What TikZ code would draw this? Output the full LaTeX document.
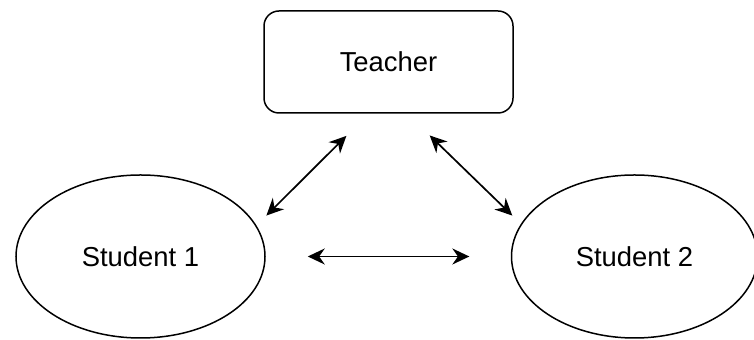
\documentclass[tikz,border=0pt]{standalone}
\usepackage{fontspec}
\setmainfont{Liberation Sans}
\usepackage{tikz}
\usetikzlibrary{positioning,arrows.meta,shapes.geometric}
\tikzset{
  linkarrow/.style={{Stealth[length=8.5pt,width=8pt,inset=2.8pt]}-{Stealth[length=8.5pt,width=8pt,inset=2.8pt]}, line width=0.85pt},
  teacherbox/.style={draw, rounded corners=7.5pt, line width=0.75pt, minimum width=124.5pt, minimum height=51pt, align=center},
  studentnode/.style={draw, ellipse, line width=0.75pt, inner sep=1pt, minimum width=124.5pt, minimum height=81.5pt, align=center}
}

\begin{document}
\begin{tikzpicture}[x=0.5pt, y=-0.5pt, every node/.style={font=\fontsize{13.7pt}{16pt}\selectfont}]
      \useasboundingbox (0,0) rectangle (754,340);
      \node[teacherbox] (teacher) at (388.5,62) {Teacher};
      \node[studentnode] (s1) at (140.5,256.5) {Student 1};
      \node[studentnode, minimum width=123pt] (s2) at (634.5,256.5) {Student 2};
      \draw[linkarrow, shorten <=15.7pt, shorten >=7pt] (teacher.249.6) -- (s1.15.5);
      \draw[linkarrow, shorten <=15.6pt, shorten >=6pt] (teacher.290.9) -- (s2.164.8);
      \draw[linkarrow, shorten <=21pt, shorten >=20.7pt] (s1.east) -- (s2.west);
    \end{tikzpicture}
\end{document}
